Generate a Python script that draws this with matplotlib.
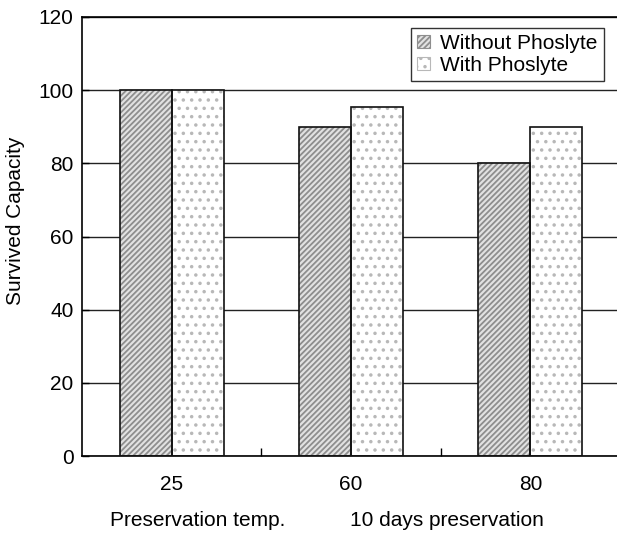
import numpy as np
import matplotlib
matplotlib.use("Agg")
import matplotlib.pyplot as plt
from matplotlib.patches import Patch

plt.rcParams['font.family'] = ['Liberation Sans', 'DejaVu Sans']
plt.rcParams['hatch.linewidth'] = 1.3

# Survived capacity after 10 days of storage at each temperature
temps = ["25", "60", "80"]
without_phoslyte = [100, 90, 80]
with_phoslyte = [100, 95.5, 90]
series_names = ["Without Phoslyte", "With Phoslyte"]

fig = plt.figure(figsize=(6.17, 5.33), dpi=100)
ax = fig.add_axes([82 / 617, 1 - 456 / 533, 538 / 617, (456 - 17) / 533])

x = np.arange(len(temps))
w = 0.29

ax.set_axisbelow(True)
ax.yaxis.grid(True, color='#222222', linewidth=1.0, zorder=0)

# hatched fills first, then black outlines on top
ax.bar(x - w / 2, without_phoslyte, w, facecolor='#e2e2e2', edgecolor='#8e8e8e',
       hatch='//////', linewidth=0, zorder=2)
ax.bar(x + w / 2, with_phoslyte, w, facecolor='white', edgecolor='#b8b8b8',
       hatch='..', linewidth=0, zorder=2)
ax.bar(x - w / 2, without_phoslyte, w, fill=False, edgecolor='#111111', linewidth=1.2, zorder=3)
ax.bar(x + w / 2, with_phoslyte, w, fill=False, edgecolor='#111111', linewidth=1.2, zorder=3)

ax.set_xlim(-0.5, 2.5)
ax.set_ylim(0, 120)
ax.set_yticks(np.arange(0, 121, 20))
ax.tick_params(axis='y', direction='in', length=5, labelsize=15, width=1, pad=6)
ax.set_xticks([0.5, 1.5])
ax.set_xticklabels([])
ax.tick_params(axis='x', which='major', direction='in', length=6, width=1)
ax.set_xticks(x, minor=True)
ax.set_xticklabels(temps, minor=True)
ax.tick_params(axis='x', which='minor', length=0, labelsize=15, pad=14)

for side in ['left', 'bottom', 'top']:
    ax.spines[side].set_linewidth(1.2)
ax.spines['right'].set_visible(False)

ax.set_ylabel("Survived Capacity", fontsize=15)
ax.yaxis.set_label_coords(-0.106, (456 - 221) / (456 - 17))

handles = [Patch(facecolor='#e2e2e2', edgecolor='#8e8e8e', hatch='//////', linewidth=0.8),
           Patch(facecolor='white', edgecolor='#b8b8b8', hatch='..', linewidth=0.8)]
leg = ax.legend(handles, series_names, loc='upper right', bbox_to_anchor=(0.978, 0.985),
                fontsize=15, frameon=True, fancybox=False, handlelength=0.6,
                handleheight=0.6, handletextpad=0.5, borderpad=0.3, labelspacing=0.15,
                borderaxespad=0.2)
leg.get_frame().set_edgecolor('black')
leg.get_frame().set_linewidth(1.0)

fig.text(198 / 617, 1 - 521 / 533, "Preservation temp.", fontsize=15, ha='center', va='center')
fig.text(447 / 617, 1 - 521 / 533, "10 days preservation", fontsize=15, ha='center', va='center')

fig.savefig("out.png", dpi=100)
